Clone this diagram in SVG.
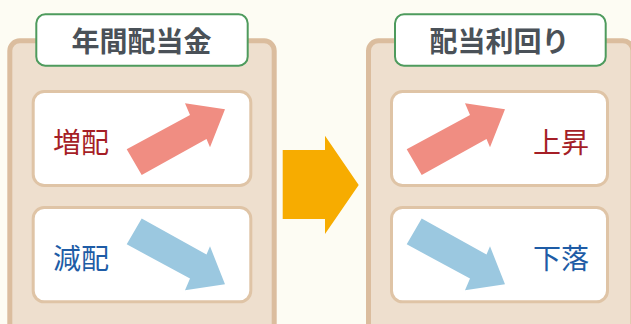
<svg xmlns="http://www.w3.org/2000/svg" width="631" height="324" viewBox="0 0 631 324">
<defs>
<style>
.panel{fill:#EEDFCE;stroke:#DBBD9E;stroke-width:5}
.title{fill:#FFFFFF;stroke:#4E9B5D;stroke-width:2}
.card{fill:#FFFFFF;stroke:#DFC4A6;stroke-width:3}
.tt{font-family:"Noto Sans CJK JP","Noto Sans",sans-serif;font-size:28px;font-weight:bold;fill:#4A5158;text-anchor:middle;dominant-baseline:central}
.lbl{font-family:"Noto Sans CJK JP","Noto Sans",sans-serif;font-size:28px;dominant-baseline:central}
.red{fill:#A51E26}
.blue{fill:#1E5CA6}
.up{fill:#F08D82}
.down{fill:#9BC8E0}
</style>
<polygon id="upArrow" points="126.7,149.3 190,115 185,103.3 225,109.3 210,147.3 206.5,139 141.7,175"/>
</defs>
<rect width="631" height="324" fill="#FDFCF3"/>
<g id="panel-left">
<rect class="panel" x="9.8" y="40.8" width="264.4" height="300" rx="10"/>
<rect class="title" x="36.3" y="14.3" width="211.4" height="51.4" rx="9"/>
<text class="tt" x="141.5" y="40">年間配当金</text>
</g>
<g id="panel-right">
<rect class="panel" x="368.5" y="40.8" width="264.4" height="300" rx="10"/>
<rect class="title" x="395" y="14.3" width="210.7" height="51.4" rx="9"/>
<text class="tt" x="499.5" y="40">配当利回り</text>
</g>
<g id="card-zouhai">
<rect class="card" x="33.2" y="91.5" width="217.6" height="94" rx="11"/>
<text class="lbl red" x="53" y="140.5">増配</text>
<use href="#upArrow" class="up"/>
</g>
<g id="card-genpai">
<rect class="card" x="33.2" y="207.5" width="217.6" height="94.3" rx="11"/>
<text class="lbl blue" x="53" y="256.5">減配</text>
<use href="#upArrow" class="down" transform="translate(0,393.6) scale(1,-1)"/>
</g>
<g id="card-joushou">
<rect class="card" x="391.5" y="91.5" width="216" height="94" rx="11"/>
<text class="lbl red" x="533" y="140.5">上昇</text>
<use href="#upArrow" class="up" transform="translate(280,0)"/>
</g>
<g id="card-geraku">
<rect class="card" x="391.5" y="207.5" width="216" height="94.3" rx="11"/>
<text class="lbl blue" x="533" y="257">下落</text>
<use href="#upArrow" class="down" transform="translate(280,393.6) scale(1,-1)"/>
</g>
<g id="connectors">
<polygon points="282.7,150 325,150 325,135.7 358.7,185 325,234 325,219 282.7,219" fill="#F7AC00"/>
</g>
</svg>
